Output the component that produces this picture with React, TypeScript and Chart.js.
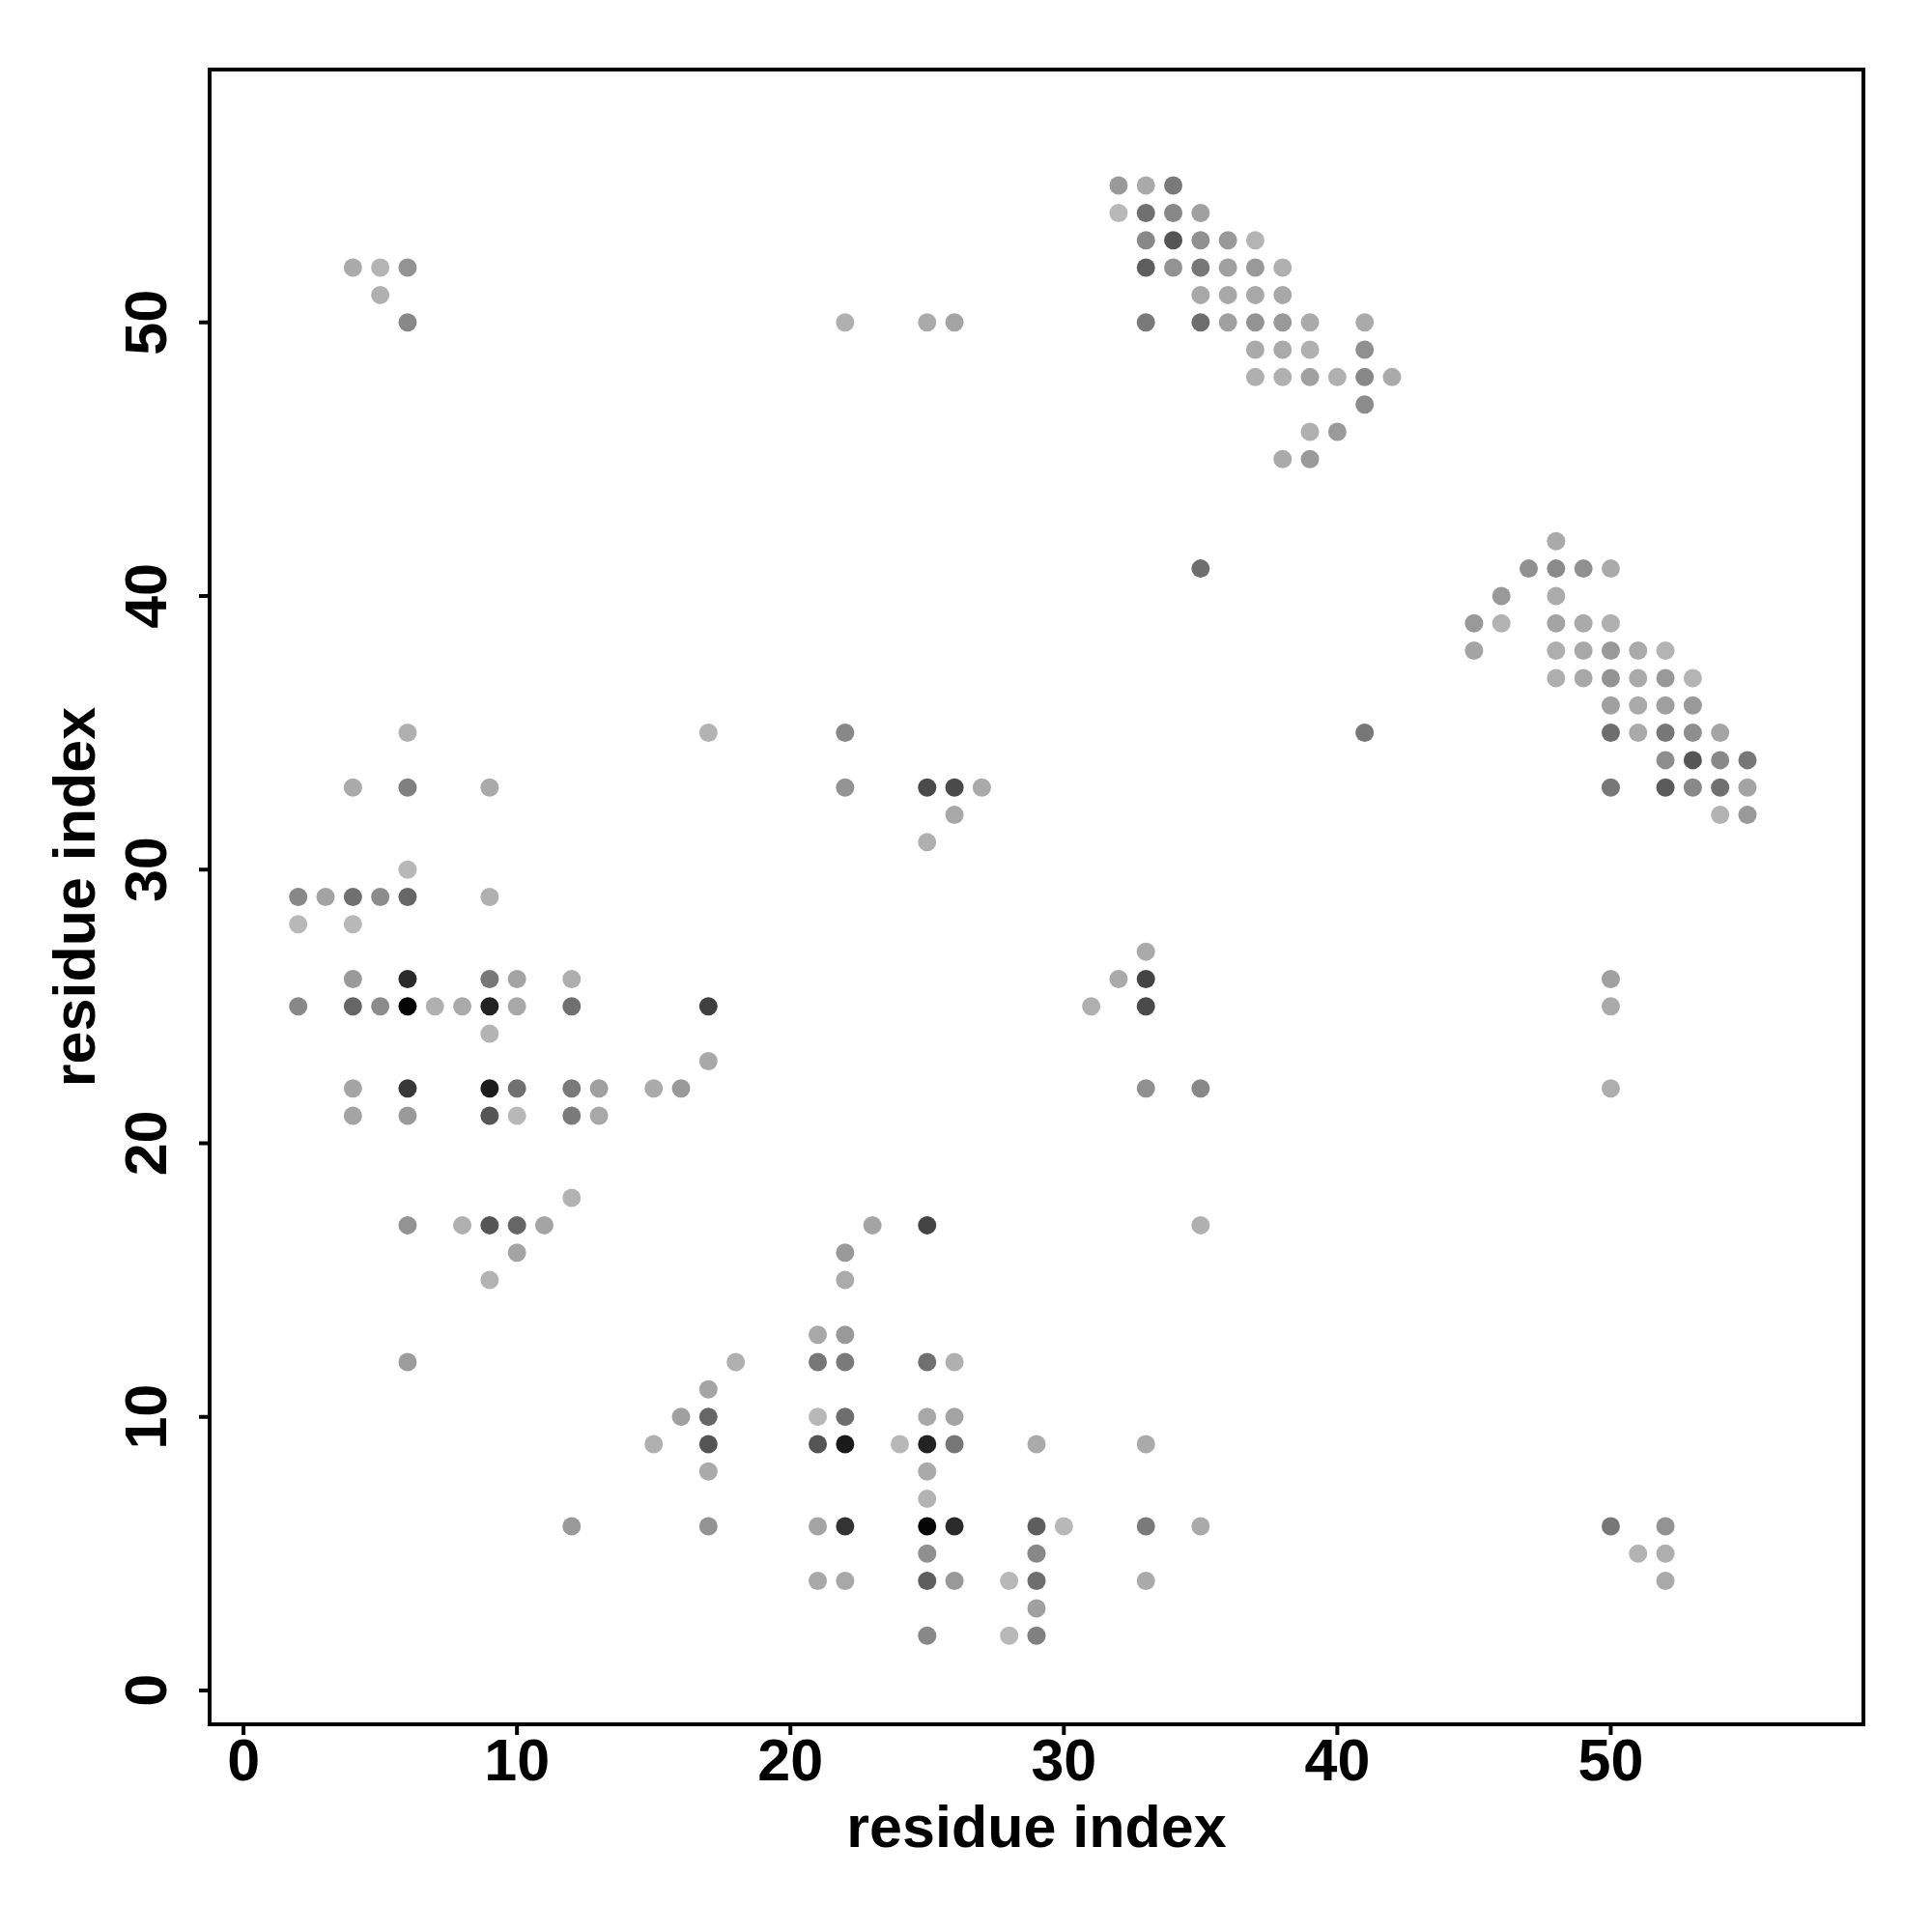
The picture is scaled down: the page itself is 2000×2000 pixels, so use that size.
import React, { useEffect, useRef } from "react";
import { Chart, registerables } from "chart.js";

Chart.register(...registerables);

// Contact map: residue index pairs and gray level (0 = black, 255 = white)
const xIdx = [
  32, 33, 34,
  32, 33, 34, 35,
  33, 34, 35, 36, 37,
  4, 5, 6, 33, 34, 35, 36, 37, 38,
  5, 35, 36, 37, 38,
  6, 22, 25, 26, 33, 35, 36, 37, 38, 39, 41,
  37, 38, 39, 41,
  37, 38, 39, 40, 41, 42,
  41,
  39, 40,
  38, 39,
  48,
  35, 47, 48, 49, 50,
  46, 48,
  45, 46, 48, 49, 50,
  45, 48, 49, 50, 51, 52,
  48, 49, 50, 51, 52, 53,
  50, 51, 52, 53,
  6, 17, 22, 41, 50, 51, 52, 53, 54,
  52, 53, 54, 55,
  4, 6, 9, 22, 25, 26, 27, 50, 52, 53, 54, 55,
  26, 54, 55,
  25,
  6,
  2, 3, 4, 5, 6, 9,
  2, 4,
  33,
  4, 6, 9, 10, 12, 32, 33, 50,
  2, 4, 5, 6, 7, 8, 9, 10, 12, 17, 31, 33, 50,
  9,
  17,
  4, 6, 9, 10, 12, 13, 15, 16, 33, 35, 50,
  4, 6, 9, 10, 12, 13,
  12,
  6, 8, 9, 10, 11, 23, 25, 35,
  10, 22,
  9, 22,
  21, 22,
  6, 18, 21, 22, 25, 26,
  17,
  16, 17, 21, 22, 25, 26,
  15, 17, 21, 22, 24, 25, 26, 29, 33,
  17, 25,
  25,
  12, 17, 21, 22, 25, 26, 29, 30, 33, 35, 50, 52,
  25, 29, 51, 52,
  21, 22, 25, 26, 28, 29, 33, 52,
  29,
  25, 28, 29,
];

const yIdx = [
  55, 55, 55,
  54, 54, 54, 54,
  53, 53, 53, 53, 53,
  52, 52, 52, 52, 52, 52, 52, 52, 52,
  51, 51, 51, 51, 51,
  50, 50, 50, 50, 50, 50, 50, 50, 50, 50, 50,
  49, 49, 49, 49,
  48, 48, 48, 48, 48, 48,
  47,
  46, 46,
  45, 45,
  42,
  41, 41, 41, 41, 41,
  40, 40,
  39, 39, 39, 39, 39,
  38, 38, 38, 38, 38, 38,
  37, 37, 37, 37, 37, 37,
  36, 36, 36, 36,
  35, 35, 35, 35, 35, 35, 35, 35, 35,
  34, 34, 34, 34,
  33, 33, 33, 33, 33, 33, 33, 33, 33, 33, 33, 33,
  32, 32, 32,
  31,
  30,
  29, 29, 29, 29, 29, 29,
  28, 28,
  27,
  26, 26, 26, 26, 26, 26, 26, 26,
  25, 25, 25, 25, 25, 25, 25, 25, 25, 25, 25, 25, 25,
  24,
  23,
  22, 22, 22, 22, 22, 22, 22, 22, 22, 22, 22,
  21, 21, 21, 21, 21, 21,
  18,
  17, 17, 17, 17, 17, 17, 17, 17,
  16, 16,
  15, 15,
  13, 13,
  12, 12, 12, 12, 12, 12,
  11,
  10, 10, 10, 10, 10, 10,
  9, 9, 9, 9, 9, 9, 9, 9, 9,
  8, 8,
  7,
  6, 6, 6, 6, 6, 6, 6, 6, 6, 6, 6, 6,
  5, 5, 5, 5,
  4, 4, 4, 4, 4, 4, 4, 4,
  3,
  2, 2, 2,
];

const grayLevel = [
  0x9a, 0xaa, 0x7a,
  0xb8, 0x70, 0x88, 0xa0,
  0x88, 0x55, 0x90, 0x99, 0xb4,
  0xaa, 0xb4, 0x93, 0x5e, 0x93, 0x77, 0xa0, 0x99, 0xb0,
  0xb0, 0xa8, 0xa8, 0xa8, 0xa8,
  0x88, 0xb0, 0xaa, 0xa4, 0x7a, 0x6e, 0xa0, 0x93, 0x99, 0xaa, 0xaa,
  0xaa, 0xaa, 0xb0, 0x90,
  0xb0, 0xb0, 0xa0, 0xb0, 0x88, 0xaa,
  0x8c,
  0xb0, 0x9a,
  0xaa, 0x9a,
  0xaa,
  0x6e, 0x90, 0x8a, 0x90, 0xaa,
  0x99, 0xab,
  0x99, 0xb3, 0xa4, 0xaa, 0xb0,
  0xa4, 0xae, 0xa8, 0x99, 0xaa, 0xb4,
  0xae, 0xa8, 0x93, 0xaa, 0x99, 0xb4,
  0xa0, 0xaa, 0xa0, 0x99,
  0xb0, 0xb3, 0x88, 0x77, 0x6e, 0xaa, 0x77, 0x8e, 0xa4,
  0x8e, 0x55, 0x88, 0x77,
  0xaa, 0x80, 0xaa, 0x93, 0x4a, 0x4a, 0xaa, 0x77, 0x5a, 0x88, 0x70, 0xa4,
  0xa8, 0xb3, 0x99,
  0xb0,
  0xb8,
  0x88, 0xa4, 0x70, 0x8c, 0x66, 0xb0,
  0xb8, 0xb8,
  0xaa,
  0x99, 0x2a, 0x77, 0xa4, 0xae, 0xaa, 0x44, 0xa0,
  0x88, 0x66, 0x8c, 0x05, 0xb0, 0xaa, 0x22, 0xa8, 0x70, 0x40, 0xb0, 0x4a, 0xaa,
  0xb3,
  0xa8,
  0xa4, 0x38, 0x1c, 0x70, 0x7a, 0xa0, 0xaa, 0x99, 0x90, 0x88, 0xae,
  0xa4, 0x99, 0x55, 0xb8, 0x7a, 0xa8,
  0xb3,
  0x93, 0xb0, 0x55, 0x66, 0xa4, 0xa4, 0x44, 0xb0,
  0xa4, 0x99,
  0xb3, 0xab,
  0xa8, 0x99,
  0x9c, 0xb0, 0x77, 0x7a, 0x70, 0xb0,
  0xa4,
  0xa0, 0x66, 0xb8, 0x6e, 0xa8, 0xa4,
  0xb0, 0x55, 0x55, 0x1a, 0xb8, 0x22, 0x77, 0xaa, 0xaa,
  0xaa, 0xaa,
  0xb3,
  0x99, 0x93, 0xa4, 0x33, 0x05, 0x2a, 0x5e, 0xb8, 0x7a, 0xaa, 0x77, 0x93,
  0x90, 0x88, 0xb3, 0xae,
  0xa8, 0xa8, 0x5e, 0x99, 0xb8, 0x6e, 0xaa, 0xaa,
  0xa0,
  0x88, 0xb8, 0x80,
];

const xTickValues = [0, 10, 20, 30, 40, 50];
const yTickValues = [0, 10, 20, 30, 40, 50];
const xTitle = "residue index";
const yTitle = "residue index";
const axisMin = -1.24;
const axisMax = 59.24;

const FONT = '"Liberation Sans", "Helvetica", Arial, sans-serif';

const framePlugin = {
  id: "rframe",
  afterDraw(chart: any) {
    const { ctx, chartArea: a } = chart;
    const xs = chart.scales.x;
    const ys = chart.scales.y;
    ctx.save();
    ctx.strokeStyle = "#000";
    ctx.lineWidth = 4;
    ctx.strokeRect(a.left, a.top, a.right - a.left, a.bottom - a.top);
    ctx.beginPath();
    xTickValues.forEach((v) => {
      const px = xs.getPixelForValue(v);
      ctx.moveTo(px, a.bottom);
      ctx.lineTo(px, a.bottom + 11);
    });
    yTickValues.forEach((v) => {
      const py = ys.getPixelForValue(v);
      ctx.moveTo(a.left, py);
      ctx.lineTo(a.left - 11, py);
    });
    ctx.stroke();

    ctx.fillStyle = "#000";
    ctx.font = `bold 61px ${FONT}`;
    ctx.textAlign = "center";
    ctx.textBaseline = "alphabetic";
    xTickValues.forEach((v) => {
      ctx.fillText(String(v), xs.getPixelForValue(v), 1843);
    });
    yTickValues.forEach((v) => {
      ctx.save();
      ctx.translate(172, ys.getPixelForValue(v));
      ctx.rotate(-Math.PI / 2);
      ctx.fillText(String(v), 0, 0);
      ctx.restore();
    });
    const cx = (a.left + a.right) / 2;
    const cy = (a.top + a.bottom) / 2;
    ctx.fillText(xTitle, cx, 1912);
    ctx.save();
    ctx.translate(98, cy);
    ctx.rotate(-Math.PI / 2);
    ctx.fillText(yTitle, 0, 0);
    ctx.restore();
    ctx.restore();
  },
};

export default function App() {
  const ref = useRef<HTMLCanvasElement | null>(null);
  useEffect(() => {
    if (!ref.current) return;
    const points = xIdx.map((x, i) => ({ x, y: yIdx[i] }));
    const colors = grayLevel.map((g) => `rgb(${g},${g},${g})`);
    const chart = new Chart(ref.current, {
      type: "scatter",
      data: {
        datasets: [
          {
            data: points,
            pointRadius: 9.5,
            pointHoverRadius: 9.5,
            pointBorderWidth: 0,
            pointBackgroundColor: colors,
            pointBorderColor: colors,
          },
        ],
      },
      options: {
        animation: false,
        responsive: false,
        devicePixelRatio: 1,
        events: [],
        layout: { padding: { left: 0, top: 72, right: 71, bottom: 0 } },
        plugins: { legend: { display: false }, tooltip: { enabled: false } },
        scales: {
          x: {
            type: "linear",
            min: axisMin,
            max: axisMax,
            grid: { display: false },
            border: { display: false },
            ticks: { display: false },
            afterBuildTicks: (s: any) => {
              s.ticks = xTickValues.map((v) => ({ value: v }));
            },
            afterFit: (s: any) => {
              s.height = 215;
            },
          },
          y: {
            type: "linear",
            min: axisMin,
            max: axisMax,
            grid: { display: false },
            border: { display: false },
            ticks: { display: false },
            afterBuildTicks: (s: any) => {
              s.ticks = yTickValues.map((v) => ({ value: v }));
            },
            afterFit: (s: any) => {
              s.width = 217;
            },
          },
        },
      } as any,
      plugins: [framePlugin],
    });
    return () => chart.destroy();
  }, []);
  return (
    <div style={{ position: "fixed", left: 0, top: 0, width: 2000, height: 2000, background: "#fff" }}>
      <canvas ref={ref} width={2000} height={2000} style={{ width: 2000, height: 2000, display: "block" }} />
    </div>
  );
}
